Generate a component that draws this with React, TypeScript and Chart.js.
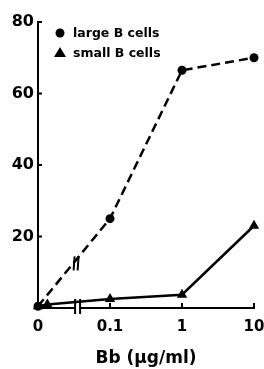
import React, { useEffect, useRef } from "react";
import { Chart, registerables } from "chart.js";

Chart.register(...registerables);

// Axis positions: 0 -> 0, 0.1 -> 1, 1 -> 2, 10 -> 3 (log scale after the axis break)
const xTickPositions = [0, 1, 2, 3];
const xTickLabels = ["0", "0.1", "1", "10"];
const yTicks = [0, 20, 40, 60, 80];

const largeX = [0, 1, 2, 3];
const largeY = [0.5, 25, 66.5, 70];

const smallX = [0, 0.13, 1, 2, 3];
const smallY = [0.5, 1, 2.5, 3.7, 23];

const seriesNames = ["large B cells", "small B cells"];
const xTitle = "Bb (\u00b5g/ml)";
const breakPos = 0.55;

const FONT = "'DejaVu Sans', sans-serif";

const decoPlugin = {
  id: "deco",
  afterDatasetsDraw(chart: any) {
    const ctx = chart.ctx;
    const xs = chart.scales.x;
    const ys = chart.scales.y;
    const y0 = ys.getPixelForValue(0);
    const xl = xs.getPixelForValue(0);
    ctx.save();
    ctx.strokeStyle = "#000";
    ctx.lineWidth = 2;
    for (const v of yTicks) {
      if (v === 0) continue;
      const py = ys.getPixelForValue(v);
      ctx.beginPath();
      ctx.moveTo(xl, py);
      ctx.lineTo(xl + 4, py);
      ctx.stroke();
    }
    for (const v of xTickPositions) {
      if (v === 0) continue;
      const px = xs.getPixelForValue(v);
      ctx.beginPath();
      ctx.moveTo(px, y0);
      ctx.lineTo(px, y0 - 5);
      ctx.stroke();
    }
    const bx = xs.getPixelForValue(breakPos);
    ctx.fillStyle = "#fff";
    ctx.fillRect(bx - 2, y0 - 2, 4, 4);
    ctx.lineWidth = 2;
    ctx.beginPath();
    ctx.moveTo(bx - 2.5, y0 - 9);
    ctx.lineTo(bx - 2.5, y0 + 6);
    ctx.moveTo(bx + 2.5, y0 - 9);
    ctx.lineTo(bx + 2.5, y0 + 6);
    ctx.stroke();
    const by = ys.getPixelForValue(largeY[1] * (breakPos - 0.05));
    ctx.beginPath();
    ctx.moveTo(bx - 4, by + 7);
    ctx.lineTo(bx - 3, by - 7);
    ctx.moveTo(bx, by + 7);
    ctx.lineTo(bx + 1, by - 7);
    ctx.stroke();
    ctx.fillStyle = "#000";
    ctx.beginPath();
    ctx.arc(60, 33, 4.5, 0, Math.PI * 2);
    ctx.fill();
    ctx.beginPath();
    ctx.moveTo(60, 47);
    ctx.lineTo(66, 57);
    ctx.lineTo(54, 57);
    ctx.closePath();
    ctx.fill();
    ctx.font = `bold 12.5px ${FONT}`;
    ctx.textBaseline = "middle";
    ctx.textAlign = "left";
    ctx.fillText(seriesNames[0], 73, 34);
    ctx.fillText(seriesNames[1], 73, 54);
    ctx.restore();
  },
};

export default function App() {
  const ref = useRef<HTMLCanvasElement>(null);
  useEffect(() => {
    document.body.style.margin = "0";
    const chart = new Chart(ref.current!, {
      type: "line",
      data: {
        datasets: [
          {
            label: seriesNames[0],
            data: largeX.map((x, i) => ({ x, y: largeY[i] })),
            borderColor: "#000",
            backgroundColor: "#000",
            borderWidth: 2.5,
            borderDash: [9, 5],
            pointStyle: "circle",
            pointRadius: 4.5,
            pointBorderWidth: 0,
            clip: false as any,
          },
          {
            label: seriesNames[1],
            data: smallX.map((x, i) => ({ x, y: smallY[i] })),
            borderColor: "#000",
            backgroundColor: "#000",
            borderWidth: 2.5,
            pointStyle: "triangle",
            pointRadius: 6,
            pointBorderWidth: 0,
            clip: false as any,
          },
        ],
      },
      options: {
        animation: false,
        responsive: false,
        layout: { padding: { top: 22, right: 10, left: 0, bottom: 0 } },
        plugins: { legend: { display: false }, tooltip: { enabled: false } },
        scales: {
          x: {
            type: "linear",
            min: 0,
            max: 3,
            afterBuildTicks: (s: any) => {
              s.ticks = xTickPositions.map((v) => ({ value: v }));
            },
            afterFit: (s: any) => {
              s.height = 61;
              s.paddingLeft = 0;
              s.paddingRight = 0;
            },
            grid: { display: false, drawTicks: false },
            border: { display: true, color: "#000", width: 2 },
            ticks: {
              padding: 10,
              color: "#000",
              font: { family: FONT, size: 15, weight: "bold" },
              callback: (v: any) => {
                const i = xTickPositions.indexOf(Number(v));
                return i >= 0 ? xTickLabels[i] : "";
              },
              maxRotation: 0,
              autoSkip: false,
            },
            title: {
              display: true,
              text: xTitle,
              color: "#000",
              font: { family: FONT, size: 17, weight: "bold" },
              padding: { top: 10, bottom: 0 },
            },
          },
          y: {
            min: 0,
            max: 80,
            afterBuildTicks: (s: any) => {
              s.ticks = yTicks.map((v) => ({ value: v }));
            },
            afterFit: (s: any) => {
              s.width = 38;
              s.paddingTop = 0;
              s.paddingBottom = 0;
            },
            grid: { display: false, drawTicks: false },
            border: { display: true, color: "#000", width: 2 },
            ticks: {
              padding: 4,
              color: "#000",
              font: { family: FONT, size: 16, weight: "bold" },
              callback: (v: any) => (v === 0 ? "" : String(v)),
            },
          },
        },
      },
      plugins: [decoPlugin],
    });
    return () => chart.destroy();
  }, []);
  return (
    <div style={{ width: 264, height: 369 }}>
      <canvas ref={ref} width={264} height={369} style={{ display: "block" }} />
    </div>
  );
}
